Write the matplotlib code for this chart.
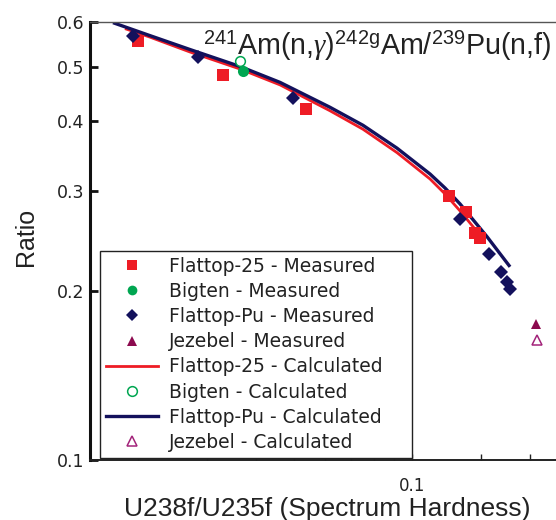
import matplotlib
matplotlib.use("Agg")
import matplotlib.pyplot as plt
from matplotlib.ticker import FixedLocator, FixedFormatter, NullFormatter, NullLocator
from matplotlib.lines import Line2D

plt.rcParams["mathtext.fontset"] = "custom"
plt.rcParams["mathtext.rm"] = "Liberation Sans"
plt.rcParams["mathtext.it"] = "Liberation Serif:italic"

# ---- data: spectral index (U238f/U235f) vs reaction-rate ratio ----
flattop25_meas_x = [0.0200, 0.0329, 0.0537, 0.1245, 0.1371, 0.1448, 0.1490]
flattop25_meas_y = [0.554, 0.4835, 0.421, 0.2944, 0.2763, 0.2536, 0.2484]

bigten_meas_x = [0.0370]
bigten_meas_y = [0.492]

flattoppu_meas_x = [0.0194, 0.0285, 0.0498, 0.1322, 0.1575, 0.1686, 0.1744, 0.1778]
flattoppu_meas_y = [0.567, 0.519, 0.4396, 0.2678, 0.2322, 0.2154, 0.2068, 0.2013]

jezebel_meas_x = [0.2072]
jezebel_meas_y = [0.1746]

flattop25_calc_x = [0.01853, 0.02146, 0.02715, 0.03641, 0.04606, 0.06177,
                    0.07499, 0.09156, 0.1112, 0.1214, 0.1326, 0.1474]
flattop25_calc_y = [0.584, 0.564, 0.5307, 0.4951, 0.4639, 0.4173,
                    0.3869, 0.3516, 0.3156, 0.2969, 0.2770, 0.2533]

bigten_calc_x = [0.0364]
bigten_calc_y = [0.5105]

flattoppu_calc_x = [0.01727, 0.02146, 0.02715, 0.03641, 0.04606, 0.06177, 0.07499,
                    0.09156, 0.1112, 0.1214, 0.1326, 0.1554, 0.1778]
flattoppu_calc_y = [0.5984, 0.5675, 0.5361, 0.5002, 0.4687, 0.4233, 0.3932,
                    0.3581, 0.3221, 0.3042, 0.2850, 0.2492, 0.2204]

jezebel_calc_x = [0.2088]
jezebel_calc_y = [0.1636]

y_ticks = [0.1, 0.2, 0.3, 0.4, 0.5, 0.6]
y_tick_labels = ["0.1", "0.2", "0.3", "0.4", "0.5", "0.6"]
x_major_ticks = [0.1]
x_major_labels = ["0.1"]
x_minor_ticks = [0.02, 0.03, 0.04, 0.05, 0.06, 0.07, 0.08, 0.09, 0.15, 0.2]

legend_labels = [
    "Flattop-25 - Measured", "Bigten - Measured", "Flattop-Pu - Measured",
    "Jezebel - Measured", "Flattop-25 - Calculated", "Bigten - Calculated",
    "Flattop-Pu - Calculated", "Jezebel - Calculated",
]

RED = "#ee1c25"
GREEN = "#00a651"
NAVY = "#13115c"
PURPLE = "#8c0a4f"
PURPLE_OPEN = "#a3237a"
TEXT = "#222222"

W, H = 556, 520
fig = plt.figure(figsize=(W / 100, H / 100), dpi=100)
ax = fig.add_axes([90 / W, (H - 460) / H, (W - 90) / W, (460 - 22) / H])

ax.set_xscale("log")
ax.set_yscale("log")
ax.set_xlim(0.01509, 0.2329)
ax.set_ylim(0.1, 0.6)

# calculated curves
ax.plot(flattop25_calc_x, flattop25_calc_y, color=RED, lw=2.0, zorder=2,
        solid_capstyle="butt", solid_joinstyle="round")
ax.plot(flattoppu_calc_x, flattoppu_calc_y, color=NAVY, lw=2.4, zorder=2.5,
        solid_capstyle="butt", solid_joinstyle="round")

# measured / calculated points
ax.plot(flattop25_meas_x, flattop25_meas_y, ls="none", marker="s", ms=8.5,
        mfc=RED, mec=RED, mew=0, zorder=3)
ax.plot(bigten_meas_x, bigten_meas_y, ls="none", marker="o", ms=8,
        mfc=GREEN, mec=GREEN, mew=0, zorder=3)
ax.plot(flattoppu_meas_x, flattoppu_meas_y, ls="none", marker="D", ms=7,
        mfc=NAVY, mec=NAVY, mew=0, zorder=3)
ax.plot(jezebel_meas_x, jezebel_meas_y, ls="none", marker="^", ms=7.5,
        mfc=PURPLE, mec=PURPLE, mew=0, zorder=3)
ax.plot(bigten_calc_x, bigten_calc_y, ls="none", marker="o", ms=7,
        mfc="white", mec=GREEN, mew=1.1, zorder=3)
ax.plot(jezebel_calc_x, jezebel_calc_y, ls="none", marker="^", ms=7,
        mfc="white", mec=PURPLE_OPEN, mew=1.1, zorder=3)

# axes styling
ax.spines["right"].set_visible(False)
ax.spines["left"].set_linewidth(2.2)
ax.spines["left"].set_color("#111111")
ax.spines["bottom"].set_linewidth(1.4)
ax.spines["bottom"].set_color("#222222")
ax.spines["top"].set_linewidth(1.0)
ax.spines["top"].set_color("#555555")

ax.yaxis.set_major_locator(FixedLocator(y_ticks))
ax.yaxis.set_major_formatter(FixedFormatter(y_tick_labels))
ax.yaxis.set_minor_locator(NullLocator())
ax.yaxis.set_minor_formatter(NullFormatter())
ax.xaxis.set_major_locator(FixedLocator(x_major_ticks))
ax.xaxis.set_major_formatter(FixedFormatter(x_major_labels))
ax.xaxis.set_minor_locator(FixedLocator(x_minor_ticks))
ax.xaxis.set_minor_formatter(NullFormatter())

ax.tick_params(axis="y", which="major", direction="in", length=6, width=2.0,
               pad=4, labelsize=12.5, labelcolor=TEXT, color="#111111")
ax.tick_params(axis="x", which="both", direction="in", length=4, width=1.0,
               color="#222222")
ax.tick_params(axis="x", which="major", pad=12, labelsize=12, labelcolor=TEXT)
for lab in ax.get_xticklabels() + ax.get_yticklabels():
    lab.set_fontfamily("DejaVu Sans")

ax.set_xlabel("U238f/U235f (Spectrum Hardness)", fontsize=19,
              family="Liberation Sans", color=TEXT, va="baseline")
ax.xaxis.set_label_coords((327 - 90) / (W - 90), -(516 - 460) / (460 - 22))
ax.set_ylabel("Ratio", fontsize=18, family="Liberation Sans", color=TEXT,
              va="baseline")
ax.yaxis.set_label_coords(-(90 - 33) / (W - 90), (460 - 237) / (460 - 22))

# reaction label
fig.text(203 / W, (H - 55) / H,
         r"$^{241}$Am(n,$\gamma$)$^{242\mathrm{g}}$Am/$^{239}$Pu(n,f)",
         fontsize=20.6, family="Liberation Sans", color=TEXT,
         ha="left", va="baseline")

# legend
handles = [
    Line2D([], [], ls="none", marker="s", ms=7, mfc=RED, mec=RED, mew=0),
    Line2D([], [], ls="none", marker="o", ms=7, mfc=GREEN, mec=GREEN, mew=0),
    Line2D([], [], ls="none", marker="D", ms=6, mfc=NAVY, mec=NAVY, mew=0),
    Line2D([], [], ls="none", marker="^", ms=7, mfc=PURPLE, mec=PURPLE, mew=0),
    Line2D([], [], color=RED, lw=2.0),
    Line2D([], [], ls="none", marker="o", ms=7, mfc="white", mec=GREEN, mew=1.1),
    Line2D([], [], color=NAVY, lw=2.4),
    Line2D([], [], ls="none", marker="^", ms=7, mfc="white", mec=PURPLE_OPEN, mew=1.1),
]
leg = fig.legend(handles, legend_labels, loc="upper left",
                 bbox_to_anchor=(100 / W, (H - 251) / H, (412 - 100) / W, 0.0),
                 mode="expand", frameon=True, fancybox=False, framealpha=1,
                 edgecolor="#222222", prop={"family": "DejaVu Sans", "size": 13.5},
                 handlelength=2.8, handletextpad=0.6, labelspacing=0.33,
                 borderpad=0.3, borderaxespad=0)
leg.get_frame().set_linewidth(1.0)
for t in leg.get_texts():
    t.set_color(TEXT)

fig.savefig("out.png", dpi=100)
